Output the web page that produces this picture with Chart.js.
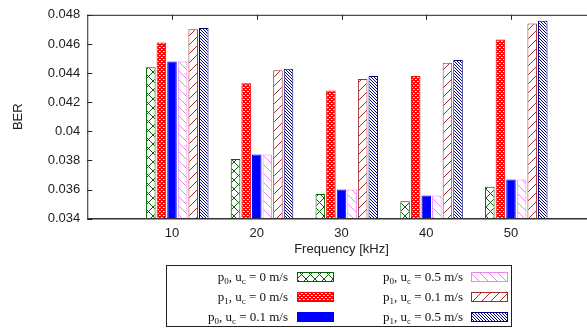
<!DOCTYPE html>
<html>
<head>
<meta charset="utf-8">
<script src="https://cdn.jsdelivr.net/npm/chart.js@4/dist/chart.umd.min.js"></script>
<style>
  html, body { margin: 0; padding: 0; background: #fff; overflow: hidden; width: 587px; height: 328px; }
  #wrap { position: relative; width: 600px; height: 328px; }
</style>
</head>
<body>
<div id="wrap"><canvas id="c" width="600" height="328"></canvas></div>
<script>
// Frequencies (kHz) and tick values
const frequencies = [10, 20, 30, 40, 50];
const yTicks = [0.034, 0.036, 0.038, 0.040, 0.042, 0.044, 0.046, 0.048];

// BER per configuration
const berP0Uc0  = [0.0444, 0.0381, 0.0357, 0.0352, 0.0362];
const berP1Uc0  = [0.0461, 0.0433, 0.0428, 0.0438, 0.0463];
const berP0Uc01 = [0.0448, 0.0384, 0.0360, 0.0356, 0.0367];
const berP0Uc05 = [0.0448, 0.0384, 0.0360, 0.0356, 0.0367];
const berP1Uc01 = [0.0470, 0.0442, 0.0436, 0.0447, 0.0474];
const berP1Uc05 = [0.0471, 0.0443, 0.0438, 0.0449, 0.0476];

// Legend label parts: p index and current speed
const seriesP  = ['0', '1', '0', '0', '1', '1'];
const seriesUc = ['0', '0', '0.1', '0.5', '0.1', '0.5'];

const canvas = document.getElementById('c');
const ctx = canvas.getContext('2d');

function tile(size, paint) {
  const t = document.createElement('canvas');
  t.width = size; t.height = size;
  const g = t.getContext('2d');
  g.fillStyle = '#fff';
  g.fillRect(0, 0, size, size);
  paint(g, size);
  return ctx.createPattern(t, 'repeat');
}
function diag(g, s, color, dir, lw) {
  g.strokeStyle = color; g.lineWidth = lw;
  g.beginPath();
  for (let k = -1; k <= 1; k++) {
    if (dir > 0) { // "/"
      g.moveTo(k * s, s); g.lineTo(k * s + s, 0);
    } else {       // "\"
      g.moveTo(k * s, 0); g.lineTo(k * s + s, s);
    }
  }
  g.stroke();
}

const GREEN = '#006400', RED = '#ff0000', BLUE = '#0000ff',
      VIOLET = '#ee82ee', BROWN = '#a52a2a', NAVY = '#000080';

const fills = [
  tile(9, (g, s) => { diag(g, s, GREEN, 1, 1); diag(g, s, GREEN, -1, 1); }),
  tile(4, (g, s) => { g.fillStyle = RED; g.fillRect(0, 0, s, s); g.fillStyle = '#fff'; g.fillRect(1, 1, 1, 1); g.fillRect(3, 3, 1, 1); g.fillStyle = '#ffb0b0'; g.fillRect(2, 1, 1, 1); g.fillRect(0, 3, 1, 1); }),
  BLUE,
  tile(9, (g, s) => diag(g, s, VIOLET, -1, 1)),
  tile(9, (g, s) => diag(g, s, BROWN, 1, 1)),
  tile(3, (g, s) => diag(g, s, NAVY, -1, 1))
];
const edges = [GREEN, RED, BLUE, VIOLET, BROWN, NAVY];
const seriesData = [berP0Uc0, berP1Uc0, berP0Uc01, berP0Uc05, berP1Uc01, berP1Uc05];

const datasets = seriesData.map((vals, i) => ({
  label: 'p' + seriesP[i] + ', uc = ' + seriesUc[i] + ' m/s',
  data: frequencies.map((f, j) => ({ x: f, y: vals[j] })),
  backgroundColor: fills[i],
  borderColor: edges[i],
  borderWidth: 1,
  borderSkipped: false,
  xAxisID: 'xb',
  categoryPercentage: 0.75,
  barPercentage: 0.9
}));

// Frame, inward ticks and the legend box
const framePlugin = {
  id: 'frame',
  afterDatasetsDraw(chart) {
    const { ctx, chartArea: a, scales } = chart;
    ctx.save();
    ctx.strokeStyle = '#222';
    ctx.lineWidth = 1;
    ctx.beginPath();
    ctx.moveTo(a.left, a.top + 0.5); ctx.lineTo(a.right, a.top + 0.5);
    ctx.moveTo(a.left + 0.5, a.top); ctx.lineTo(a.left + 0.5, a.bottom);
    ctx.stroke();
    ctx.strokeStyle = '#333';
    ctx.lineWidth = 1.6;
    ctx.beginPath();
    ctx.moveTo(a.left, a.bottom); ctx.lineTo(a.right, a.bottom);
    ctx.stroke();
    ctx.lineWidth = 1;
    ctx.strokeStyle = '#222';
    ctx.beginPath();
    scales.y.ticks.forEach(t => {
      const y = Math.round(scales.y.getPixelForValue(t.value)) + 0.5;
      ctx.moveTo(a.left, y); ctx.lineTo(a.left + 5, y);
    });
    scales.x.ticks.forEach(t => {
      const x = Math.round(scales.x.getPixelForValue(t.value)) + 0.5;
      ctx.moveTo(x, a.top); ctx.lineTo(x, a.top + 5);
    });
    ctx.stroke();
    ctx.restore();
  },
  afterDraw(chart) {
    const c = chart.ctx;
    c.save();
    c.strokeStyle = '#222';
    c.lineWidth = 1;
    c.strokeRect(166.5, 265.5, 345, 61);
    const rows = [277, 297, 317];
    const cols = [{ textRight: 288, sw: 297 }, { textRight: 463, sw: 471 }];
    const big = '13px "Liberation Serif", "Times New Roman", serif';
    const small = '9px "Liberation Serif", "Times New Roman", serif';
    chart.data.datasets.forEach((ds, i) => {
      const col = cols[Math.floor(i / 3)];
      const y = rows[i % 3];
      const parts = [
        ['p', big, 0], [seriesP[i], small, 3], [', u', big, 0],
        ['c', small, 3], [' = ' + seriesUc[i] + ' m/s', big, 0]
      ];
      let w = 0;
      parts.forEach(p => { c.font = p[1]; w += c.measureText(p[0]).width; });
      let x = col.textRight - w;
      c.fillStyle = '#111';
      c.textBaseline = 'alphabetic';
      parts.forEach(p => {
        c.font = p[1];
        c.fillText(p[0], x, y + 4 + p[2]);
        x += c.measureText(p[0]).width;
      });
      c.fillStyle = ds.backgroundColor;
      c.fillRect(col.sw, y - 5, 37, 10);
      c.strokeStyle = ds.borderColor;
      c.strokeRect(col.sw + 0.5, y - 4.5, 36, 9);
    });
    c.restore();
  }
};

const sans = '"Liberation Sans", Arial, sans-serif';

new Chart(canvas, {
  type: 'bar',
  data: { datasets },
  options: {
    responsive: false,
    animation: false,
    devicePixelRatio: 1,
    layout: { padding: { left: 0, top: 13, right: 4.25, bottom: 0 } },
    plugins: { legend: { display: false }, tooltip: { enabled: false } },
    scales: {
      x: {
        type: 'linear',
        offset: false,
        min: 0, max: 60,
        afterBuildTicks: s => { s.ticks = frequencies.map(v => ({ value: v })); },
        afterFit: s => { s.height = 109.3; },
        grid: { display: false, drawTicks: false, offset: false },
        border: { display: false },
        ticks: { color: '#222', padding: 7, font: { family: sans, size: 13 }, callback: v => String(v) },
        title: { display: true, text: 'Frequency [kHz]', color: '#222', font: { family: sans, size: 13 }, padding: { top: 0, bottom: 71 } }
      },
      xb: {
        type: 'linear',
        display: false,
        offset: false,
        grid: { offset: false },
        min: -0.625, max: 59.375,
        ticks: { stepSize: 10 }
      },
      y: {
        min: 0.034, max: 0.048,
        afterBuildTicks: s => { s.ticks = yTicks.map(v => ({ value: v })); },
        afterFit: s => { s.width = 87.25; },
        grid: { display: false, drawTicks: false },
        border: { display: false },
        ticks: { color: '#222', padding: 7, font: { family: sans, size: 13 }, callback: v => String(Number(v.toFixed(3))) },
        title: { display: true, text: 'BER', color: '#222', font: { family: sans, size: 13 }, padding: { top: 11, bottom: 0 } }
      }
    }
  },
  plugins: [framePlugin]
});
</script>
</body>
</html>
